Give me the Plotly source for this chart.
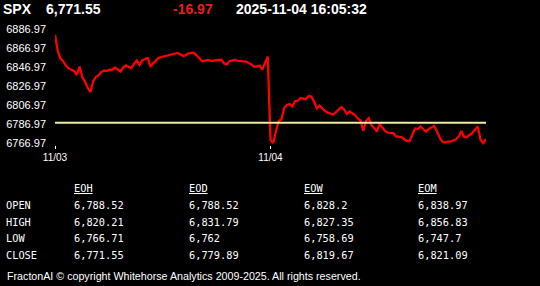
import plotly.graph_objects as go

# ---------------- data ----------------
symbol = "SPX"
last_price = 6771.55
change = -16.97
timestamp = "2025-11-04 16:05:32"

day_labels = ["11/03", "11/04"]

# 5-minute closes, 11/03 session
day1 = [6881.0, 6863.9, 6856.0, 6853.1, 6848.6, 6845.8, 6844.3, 6842.9, 6838.7, 6847.6,
        6836.6, 6831.6, 6825.0, 6820.8, 6832.1, 6836.6, 6838.5, 6841.8, 6843.4, 6842.9,
        6844.2, 6844.2, 6846.5, 6843.9, 6842.3, 6846.5, 6848.7, 6847.2, 6846.0, 6850.6,
        6853.9, 6849.4, 6854.0, 6855.5, 6856.5, 6848.1, 6850.8, 6854.4, 6856.7, 6857.6,
        6858.3, 6858.9, 6859.7, 6860.4, 6861.1, 6861.8, 6860.2, 6858.6, 6859.7, 6861.4,
        6861.8, 6861.8, 6859.1, 6856.0, 6853.1, 6853.9, 6854.6, 6853.7, 6853.4, 6854.2,
        6854.7, 6854.7, 6850.8, 6849.7, 6853.4, 6853.9, 6854.6, 6853.5, 6853.1, 6853.1,
        6852.8, 6851.3, 6849.8, 6847.4, 6847.6, 6848.6, 6844.4, 6851.3, 6858.0]

# 5-minute closes, 11/04 session
day2 = [6770.4, 6767.3, 6779.9, 6790.4, 6791.9, 6804.0, 6807.2, 6808.2, 6805.6, 6811.1,
        6811.7, 6814.5, 6813.9, 6813.5, 6816.6, 6816.1, 6810.3, 6803.5, 6806.6, 6803.5,
        6800.9, 6799.1, 6798.2, 6797.2, 6799.8, 6802.5, 6805.1, 6802.5, 6797.7, 6800.4,
        6798.2, 6796.7, 6793.0, 6790.9, 6779.9, 6790.4, 6793.5, 6786.2, 6783.0, 6779.3,
        6787.2, 6784.1, 6779.9, 6778.3, 6777.8, 6777.6, 6774.1, 6773.6, 6773.6, 6771.5,
        6769.4, 6769.4, 6776.7, 6782.5, 6782.0, 6784.6, 6782.0, 6779.3, 6782.0, 6783.6,
        6785.1, 6779.6, 6773.0, 6768.8, 6767.8, 6768.8, 6768.8, 6769.9, 6771.2, 6774.1,
        6779.9, 6773.6, 6773.6, 6775.7, 6777.8, 6781.5, 6784.6, 6770.6, 6767.3, 6771.55]

y_ticks = [6766.97, 6786.97, 6806.97, 6826.97, 6846.97, 6866.97, 6886.97]

table_cols = ["EOH", "EOD", "EOW", "EOM"]
table_rows = ["OPEN", "HIGH", "LOW", "CLOSE"]
open_vals = [6788.52, 6788.52, 6828.2, 6838.97]
high_vals = [6820.21, 6831.79, 6827.35, 6856.83]
low_vals = [6766.71, 6762, 6758.69, 6747.7]
close_vals = [6771.55, 6779.89, 6819.67, 6821.09]

footer = "FractonAI © copyright Whitehorse Analytics 2009-2025. All rights reserved."

# ---------------- layout geometry ----------------
W, H = 540, 286
PL, PR, PT, PB = 55, 486, 27, 145   # plot area in pixels

def px(x):
    return (x - PL) / (PR - PL)

def py(y):
    return (PB - y) / (PB - PT)

def fmt(v):
    return "{:,.2f}".format(v).rstrip("0").rstrip(".")

prices = day1 + day2
xs = list(range(len(prices)))
n1 = len(day1)

fig = go.Figure()
fig.add_trace(go.Scatter(x=xs, y=prices, mode="lines",
                         line=dict(color="#ff0000", width=2.3), hoverinfo="skip"))
fig.add_trace(go.Scatter(x=[xs[0], xs[-1]], y=[open_vals[0], open_vals[0]], mode="lines",
                         line=dict(color="#ecec9e", width=2), hoverinfo="skip"))

ann = []
def text(x, y, s, size, color="white", family="Liberation Sans", bold=False, anchor="left"):
    if bold:
        s = "<b>" + s + "</b>"
    ann.append(dict(x=px(x), y=py(y), xref="paper", yref="paper", text=s, showarrow=False,
                    xanchor=anchor, yanchor="middle", xshift=-2,
                    font=dict(size=size, color=color, family=family)))

# header
text(3, 9, symbol, 14, bold=True)
text(46, 9, fmt(last_price), 14, bold=True)
text(173, 9, fmt(change), 14, color="#e8201a", bold=True)
text(236, 9, timestamp, 14, bold=True)

# table
mono = "DejaVu Sans Mono"
fs = 10.3
col_x = [74, 189, 304, 418]
row_y = [205, 221.5, 238, 255]
for cx, c in zip(col_x, table_cols):
    text(cx, 188, "<u>" + c + "</u>", fs, family=mono)
for ry, r in zip(row_y, table_rows):
    text(6, ry, r, fs, family=mono)
for ry, vals in zip(row_y, [open_vals, high_vals, low_vals, close_vals]):
    for cx, v in zip(col_x, vals):
        text(cx, ry, fmt(v), fs, family=mono)

text(6.5, 275.5, footer, 10.7)

fig.update_layout(
    width=W, height=H,
    margin=dict(l=PL, r=W - PR, t=PT, b=H - PB, pad=0, autoexpand=False),
    paper_bgcolor="black", plot_bgcolor="black",
    showlegend=False,
    annotations=ann,
    xaxis=dict(range=[0, len(prices) - 1], tickvals=[0, n1], ticktext=day_labels,
               showgrid=False, zeroline=False, showline=False, automargin=False,
               ticks="outside", ticklen=3, tickcolor="white", tickwidth=1,
               tickfont=dict(size=10, color="white", family="Liberation Sans")),
    yaxis=dict(range=[6765.2, 6889.1], tickvals=y_ticks,
               ticktext=["%.2f" % v for v in y_ticks],
               showgrid=False, zeroline=False, showline=False, automargin=False,
               ticks="", ticklabelstandoff=8,
               tickfont=dict(size=11, color="white", family="Liberation Sans")),
)

fig.write_html("out.html")
